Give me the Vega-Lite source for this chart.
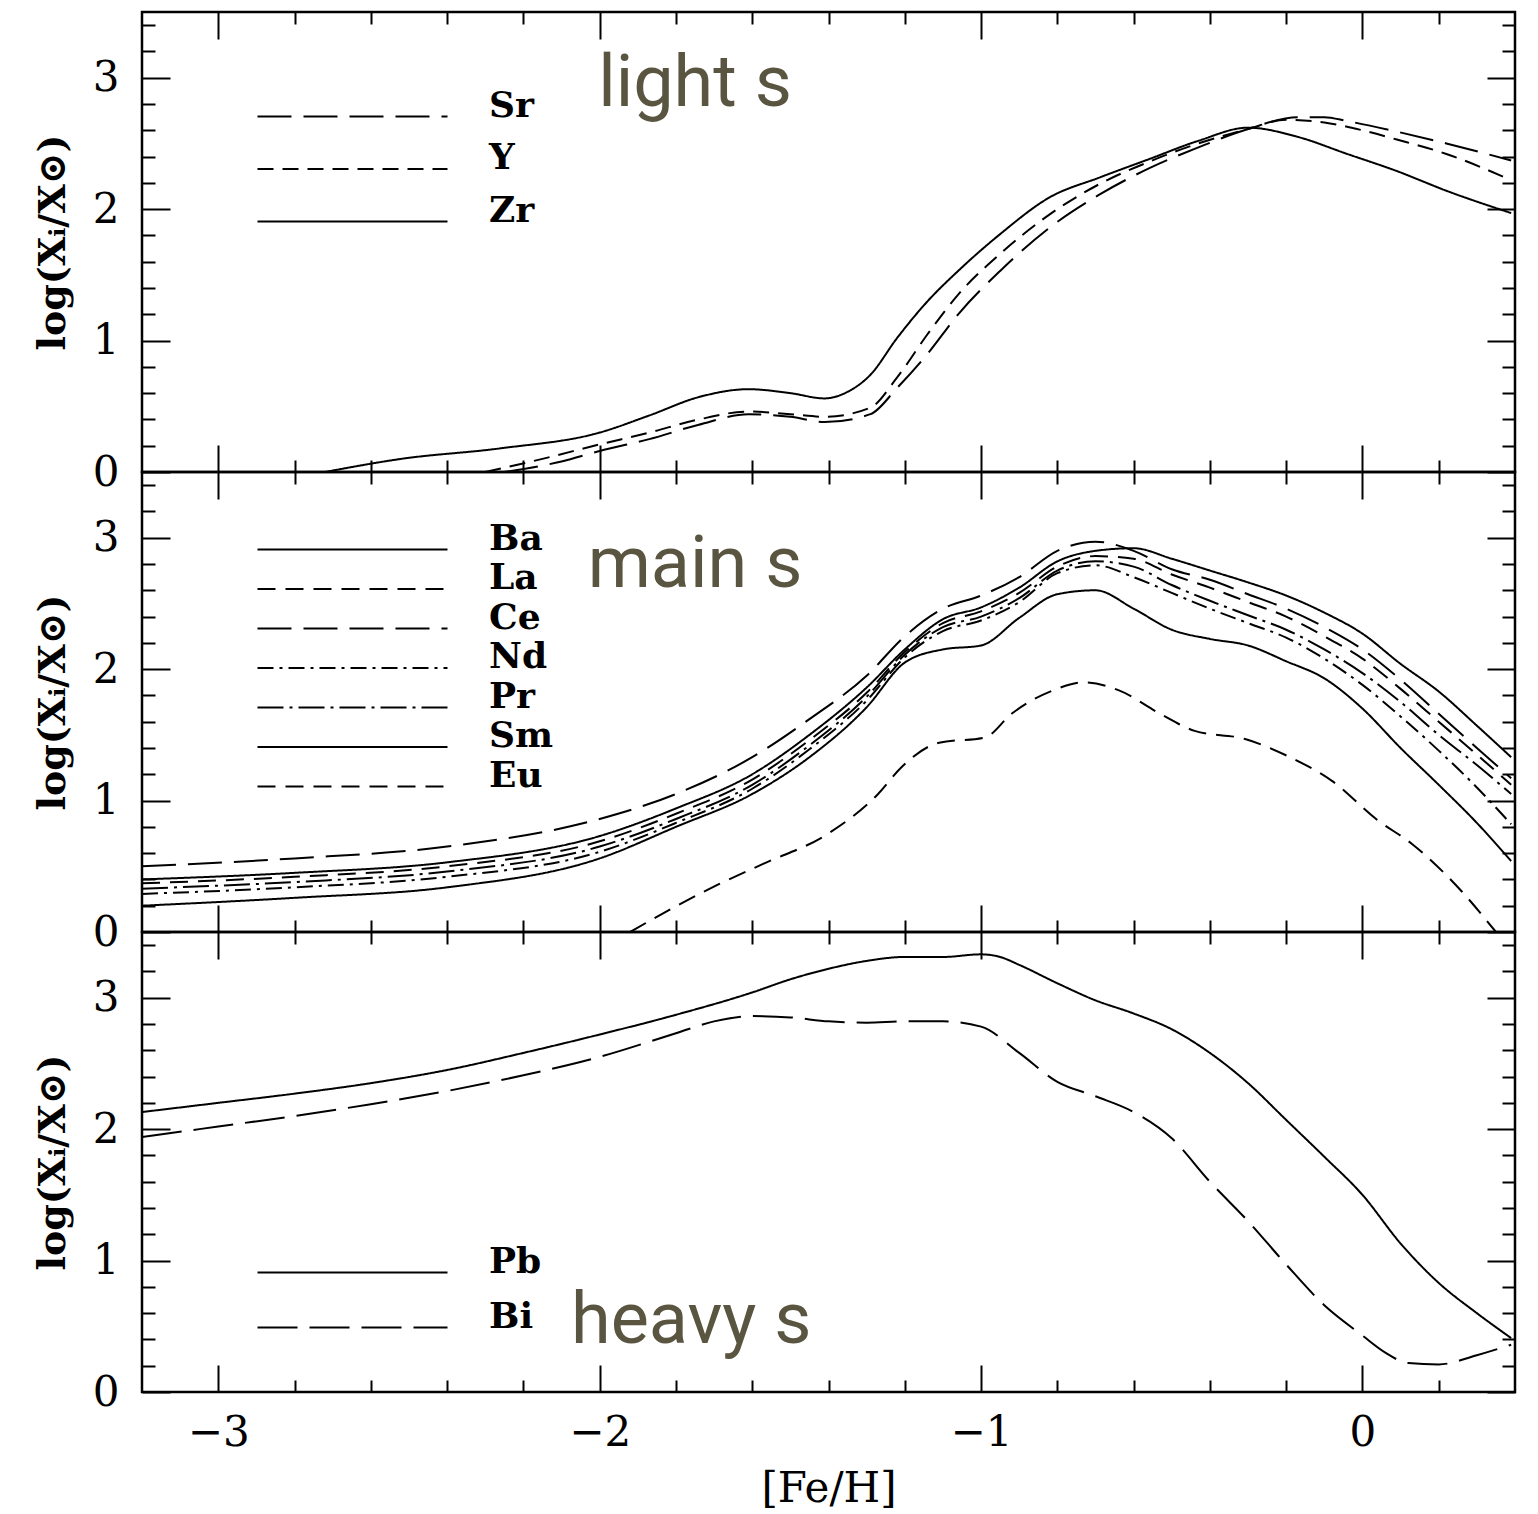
{
  "$schema": "https://vega.github.io/schema/vega-lite/v6.json",
  "padding": {"left": 33, "top": 2, "right": 0, "bottom": 0},
  "autosize": {"type": "pad"},
  "background": "white",
  "bounds": "flush",
  "config": {
    "view": {"stroke": "black", "strokeWidth": 2.5},
    "axis": {"domain": false, "grid": false, "tickColor": "black", "tickWidth": 2, "labelColor": "black", "labelFont": "DejaVu Serif", "labelFontSize": 42, "titleFont": "DejaVu Serif", "titleColor": "black", "titleFontWeight": "bold", "labelOverlap": false, "labelFlush": false},
    "legend": {"orient": "none", "title": null, "symbolType": "M-5,0H5", "symbolSize": 1444, "symbolStrokeWidth": 2.2, "symbolStrokeColor": "black", "labelFont": "DejaVu Serif", "labelFontSize": 36, "labelFontWeight": "bold", "labelColor": "black", "labelOffset": 116, "labelBaseline": "alphabetic", "padding": 0}
  },
  "datasets": {
    "light": [
      {"el":"Zr","feh":-2.72,"val":0},{"el":"Zr","feh":-2.52,"val":0.10},{"el":"Zr","feh":-2.26,"val":0.18},{"el":"Zr","feh":-2.0,"val":0.30},{"el":"Zr","feh":-1.87,"val":0.43},{"el":"Zr","feh":-1.74,"val":0.57},{"el":"Zr","feh":-1.61,"val":0.63},{"el":"Zr","feh":-1.5,"val":0.60},{"el":"Zr","feh":-1.41,"val":0.56},{"el":"Zr","feh":-1.35,"val":0.61},{"el":"Zr","feh":-1.29,"val":0.74},{"el":"Zr","feh":-1.22,"val":1.02},{"el":"Zr","feh":-1.14,"val":1.30},{"el":"Zr","feh":-1.06,"val":1.53},{"el":"Zr","feh":-0.95,"val":1.81},{"el":"Zr","feh":-0.82,"val":2.09},{"el":"Zr","feh":-0.69,"val":2.24},{"el":"Zr","feh":-0.56,"val":2.38},{"el":"Zr","feh":-0.43,"val":2.52},{"el":"Zr","feh":-0.30,"val":2.62},{"el":"Zr","feh":-0.17,"val":2.55},{"el":"Zr","feh":-0.04,"val":2.42},{"el":"Zr","feh":0.09,"val":2.29},{"el":"Zr","feh":0.22,"val":2.14},{"el":"Zr","feh":0.39,"val":1.97},
      {"el":"Y","feh":-2.30,"val":0},{"el":"Y","feh":-2.15,"val":0.10},{"el":"Y","feh":-2.0,"val":0.21},{"el":"Y","feh":-1.87,"val":0.30},{"el":"Y","feh":-1.74,"val":0.40},{"el":"Y","feh":-1.61,"val":0.46},{"el":"Y","feh":-1.5,"val":0.44},{"el":"Y","feh":-1.41,"val":0.42},{"el":"Y","feh":-1.29,"val":0.49},{"el":"Y","feh":-1.22,"val":0.72},{"el":"Y","feh":-1.14,"val":1.05},{"el":"Y","feh":-1.06,"val":1.35},{"el":"Y","feh":-0.95,"val":1.66},{"el":"Y","feh":-0.82,"val":1.96},{"el":"Y","feh":-0.69,"val":2.19},{"el":"Y","feh":-0.56,"val":2.36},{"el":"Y","feh":-0.43,"val":2.50},{"el":"Y","feh":-0.3,"val":2.61},{"el":"Y","feh":-0.2,"val":2.68},{"el":"Y","feh":-0.1,"val":2.66},{"el":"Y","feh":0.0,"val":2.60},{"el":"Y","feh":0.09,"val":2.53},{"el":"Y","feh":0.22,"val":2.42},{"el":"Y","feh":0.39,"val":2.22},
      {"el":"Sr","feh":-2.25,"val":0},{"el":"Sr","feh":-2.1,"val":0.08},{"el":"Sr","feh":-2.0,"val":0.16},{"el":"Sr","feh":-1.87,"val":0.25},{"el":"Sr","feh":-1.74,"val":0.36},{"el":"Sr","feh":-1.61,"val":0.44},{"el":"Sr","feh":-1.5,"val":0.42},{"el":"Sr","feh":-1.41,"val":0.38},{"el":"Sr","feh":-1.29,"val":0.44},{"el":"Sr","feh":-1.22,"val":0.64},{"el":"Sr","feh":-1.14,"val":0.90},{"el":"Sr","feh":-1.06,"val":1.20},{"el":"Sr","feh":-0.95,"val":1.53},{"el":"Sr","feh":-0.82,"val":1.86},{"el":"Sr","feh":-0.69,"val":2.11},{"el":"Sr","feh":-0.56,"val":2.31},{"el":"Sr","feh":-0.43,"val":2.47},{"el":"Sr","feh":-0.3,"val":2.61},{"el":"Sr","feh":-0.17,"val":2.70},{"el":"Sr","feh":-0.1,"val":2.70},{"el":"Sr","feh":-0.04,"val":2.67},{"el":"Sr","feh":0.09,"val":2.59},{"el":"Sr","feh":0.22,"val":2.50},{"el":"Sr","feh":0.39,"val":2.37}
    ],
    "main": [
      {"el":"Ce","feh":-3.2,"val":0.50},{"el":"Ce","feh":-2.8,"val":0.56},{"el":"Ce","feh":-2.4,"val":0.65},{"el":"Ce","feh":-2.0,"val":0.86},{"el":"Ce","feh":-1.8,"val":1.05},{"el":"Ce","feh":-1.6,"val":1.33},{"el":"Ce","feh":-1.45,"val":1.62},{"el":"Ce","feh":-1.3,"val":1.95},{"el":"Ce","feh":-1.2,"val":2.25},{"el":"Ce","feh":-1.1,"val":2.46},{"el":"Ce","feh":-1.0,"val":2.56},{"el":"Ce","feh":-0.9,"val":2.70},{"el":"Ce","feh":-0.8,"val":2.90},{"el":"Ce","feh":-0.7,"val":2.97},{"el":"Ce","feh":-0.6,"val":2.90},{"el":"Ce","feh":-0.5,"val":2.76},{"el":"Ce","feh":-0.4,"val":2.68},{"el":"Ce","feh":-0.3,"val":2.57},{"el":"Ce","feh":-0.2,"val":2.46},{"el":"Ce","feh":-0.1,"val":2.32},{"el":"Ce","feh":0.0,"val":2.15},{"el":"Ce","feh":0.1,"val":1.92},{"el":"Ce","feh":0.2,"val":1.66},{"el":"Ce","feh":0.3,"val":1.40},{"el":"Ce","feh":0.39,"val":1.17},
      {"el":"Ba","feh":-3.2,"val":0.40},{"el":"Ba","feh":-2.8,"val":0.45},{"el":"Ba","feh":-2.4,"val":0.53},{"el":"Ba","feh":-2.0,"val":0.73},{"el":"Ba","feh":-1.8,"val":0.94},{"el":"Ba","feh":-1.6,"val":1.20},{"el":"Ba","feh":-1.45,"val":1.50},{"el":"Ba","feh":-1.3,"val":1.86},{"el":"Ba","feh":-1.2,"val":2.15},{"el":"Ba","feh":-1.1,"val":2.38},{"el":"Ba","feh":-1.0,"val":2.47},{"el":"Ba","feh":-0.9,"val":2.62},{"el":"Ba","feh":-0.8,"val":2.82},{"el":"Ba","feh":-0.7,"val":2.90},{"el":"Ba","feh":-0.6,"val":2.92},{"el":"Ba","feh":-0.5,"val":2.84},{"el":"Ba","feh":-0.4,"val":2.75},{"el":"Ba","feh":-0.3,"val":2.66},{"el":"Ba","feh":-0.2,"val":2.56},{"el":"Ba","feh":-0.1,"val":2.43},{"el":"Ba","feh":0.0,"val":2.27},{"el":"Ba","feh":0.1,"val":2.04},{"el":"Ba","feh":0.2,"val":1.83},{"el":"Ba","feh":0.3,"val":1.57},{"el":"Ba","feh":0.39,"val":1.33},
      {"el":"La","feh":-3.2,"val":0.37},{"el":"La","feh":-2.8,"val":0.42},{"el":"La","feh":-2.4,"val":0.50},{"el":"La","feh":-2.0,"val":0.69},{"el":"La","feh":-1.8,"val":0.90},{"el":"La","feh":-1.6,"val":1.16},{"el":"La","feh":-1.45,"val":1.46},{"el":"La","feh":-1.3,"val":1.82},{"el":"La","feh":-1.2,"val":2.13},{"el":"La","feh":-1.1,"val":2.35},{"el":"La","feh":-1.0,"val":2.44},{"el":"La","feh":-0.9,"val":2.58},{"el":"La","feh":-0.8,"val":2.78},{"el":"La","feh":-0.7,"val":2.86},{"el":"La","feh":-0.6,"val":2.84},{"el":"La","feh":-0.5,"val":2.72},{"el":"La","feh":-0.4,"val":2.62},{"el":"La","feh":-0.3,"val":2.51},{"el":"La","feh":-0.2,"val":2.40},{"el":"La","feh":-0.1,"val":2.25},{"el":"La","feh":0.0,"val":2.08},{"el":"La","feh":0.1,"val":1.85},{"el":"La","feh":0.2,"val":1.60},{"el":"La","feh":0.3,"val":1.35},{"el":"La","feh":0.39,"val":1.12},
      {"el":"Pr","feh":-3.2,"val":0.33},{"el":"Pr","feh":-2.8,"val":0.38},{"el":"Pr","feh":-2.4,"val":0.46},{"el":"Pr","feh":-2.0,"val":0.65},{"el":"Pr","feh":-1.8,"val":0.86},{"el":"Pr","feh":-1.6,"val":1.12},{"el":"Pr","feh":-1.45,"val":1.42},{"el":"Pr","feh":-1.3,"val":1.79},{"el":"Pr","feh":-1.2,"val":2.11},{"el":"Pr","feh":-1.1,"val":2.32},{"el":"Pr","feh":-1.0,"val":2.40},{"el":"Pr","feh":-0.9,"val":2.54},{"el":"Pr","feh":-0.8,"val":2.75},{"el":"Pr","feh":-0.7,"val":2.82},{"el":"Pr","feh":-0.6,"val":2.78},{"el":"Pr","feh":-0.5,"val":2.64},{"el":"Pr","feh":-0.4,"val":2.52},{"el":"Pr","feh":-0.3,"val":2.41},{"el":"Pr","feh":-0.2,"val":2.30},{"el":"Pr","feh":-0.1,"val":2.15},{"el":"Pr","feh":0.0,"val":1.97},{"el":"Pr","feh":0.1,"val":1.75},{"el":"Pr","feh":0.2,"val":1.50},{"el":"Pr","feh":0.3,"val":1.27},{"el":"Pr","feh":0.39,"val":1.05},
      {"el":"Nd","feh":-3.2,"val":0.29},{"el":"Nd","feh":-2.8,"val":0.34},{"el":"Nd","feh":-2.4,"val":0.42},{"el":"Nd","feh":-2.0,"val":0.61},{"el":"Nd","feh":-1.8,"val":0.83},{"el":"Nd","feh":-1.6,"val":1.09},{"el":"Nd","feh":-1.45,"val":1.39},{"el":"Nd","feh":-1.3,"val":1.76},{"el":"Nd","feh":-1.2,"val":2.09},{"el":"Nd","feh":-1.1,"val":2.29},{"el":"Nd","feh":-1.0,"val":2.37},{"el":"Nd","feh":-0.9,"val":2.51},{"el":"Nd","feh":-0.8,"val":2.73},{"el":"Nd","feh":-0.7,"val":2.79},{"el":"Nd","feh":-0.6,"val":2.70},{"el":"Nd","feh":-0.5,"val":2.58},{"el":"Nd","feh":-0.4,"val":2.46},{"el":"Nd","feh":-0.3,"val":2.35},{"el":"Nd","feh":-0.2,"val":2.24},{"el":"Nd","feh":-0.1,"val":2.08},{"el":"Nd","feh":0.0,"val":1.88},{"el":"Nd","feh":0.1,"val":1.64},{"el":"Nd","feh":0.2,"val":1.38},{"el":"Nd","feh":0.3,"val":1.10},{"el":"Nd","feh":0.39,"val":0.82},
      {"el":"Sm","feh":-3.2,"val":0.20},{"el":"Sm","feh":-2.8,"val":0.26},{"el":"Sm","feh":-2.4,"val":0.34},{"el":"Sm","feh":-2.0,"val":0.56},{"el":"Sm","feh":-1.8,"val":0.80},{"el":"Sm","feh":-1.6,"val":1.05},{"el":"Sm","feh":-1.45,"val":1.33},{"el":"Sm","feh":-1.3,"val":1.71},{"el":"Sm","feh":-1.2,"val":2.05},{"el":"Sm","feh":-1.1,"val":2.15},{"el":"Sm","feh":-1.0,"val":2.18},{"el":"Sm","feh":-0.9,"val":2.39},{"el":"Sm","feh":-0.8,"val":2.57},{"el":"Sm","feh":-0.7,"val":2.60},{"el":"Sm","feh":-0.6,"val":2.46},{"el":"Sm","feh":-0.5,"val":2.30},{"el":"Sm","feh":-0.4,"val":2.23},{"el":"Sm","feh":-0.3,"val":2.18},{"el":"Sm","feh":-0.2,"val":2.06},{"el":"Sm","feh":-0.1,"val":1.93},{"el":"Sm","feh":0.0,"val":1.70},{"el":"Sm","feh":0.1,"val":1.40},{"el":"Sm","feh":0.2,"val":1.12},{"el":"Sm","feh":0.3,"val":0.83},{"el":"Sm","feh":0.39,"val":0.54},
      {"el":"Eu","feh":-1.92,"val":0},{"el":"Eu","feh":-1.81,"val":0.18},{"el":"Eu","feh":-1.69,"val":0.36},{"el":"Eu","feh":-1.57,"val":0.52},{"el":"Eu","feh":-1.40,"val":0.75},{"el":"Eu","feh":-1.27,"val":1.05},{"el":"Eu","feh":-1.21,"val":1.25},{"el":"Eu","feh":-1.11,"val":1.44},{"el":"Eu","feh":-0.99,"val":1.48},{"el":"Eu","feh":-0.92,"val":1.66},{"el":"Eu","feh":-0.81,"val":1.84},{"el":"Eu","feh":-0.73,"val":1.90},{"el":"Eu","feh":-0.64,"val":1.84},{"el":"Eu","feh":-0.53,"val":1.66},{"el":"Eu","feh":-0.44,"val":1.53},{"el":"Eu","feh":-0.31,"val":1.47},{"el":"Eu","feh":-0.19,"val":1.33},{"el":"Eu","feh":-0.08,"val":1.15},{"el":"Eu","feh":0.04,"val":0.85},{"el":"Eu","feh":0.13,"val":0.67},{"el":"Eu","feh":0.26,"val":0.31},{"el":"Eu","feh":0.35,"val":0.0}
    ],
    "heavy": [
      {"el":"Pb","feh":-3.2,"val":2.13},{"el":"Pb","feh":-3.0,"val":2.20},{"el":"Pb","feh":-2.8,"val":2.27},{"el":"Pb","feh":-2.6,"val":2.35},{"el":"Pb","feh":-2.4,"val":2.45},{"el":"Pb","feh":-2.2,"val":2.58},{"el":"Pb","feh":-2.0,"val":2.72},{"el":"Pb","feh":-1.8,"val":2.87},{"el":"Pb","feh":-1.6,"val":3.04},{"el":"Pb","feh":-1.5,"val":3.14},{"el":"Pb","feh":-1.4,"val":3.22},{"el":"Pb","feh":-1.3,"val":3.28},{"el":"Pb","feh":-1.2,"val":3.31},{"el":"Pb","feh":-1.1,"val":3.31},{"el":"Pb","feh":-1.0,"val":3.33},{"el":"Pb","feh":-0.95,"val":3.31},{"el":"Pb","feh":-0.9,"val":3.25},{"el":"Pb","feh":-0.8,"val":3.11},{"el":"Pb","feh":-0.7,"val":2.98},{"el":"Pb","feh":-0.6,"val":2.88},{"el":"Pb","feh":-0.5,"val":2.76},{"el":"Pb","feh":-0.4,"val":2.58},{"el":"Pb","feh":-0.3,"val":2.35},{"el":"Pb","feh":-0.2,"val":2.07},{"el":"Pb","feh":-0.1,"val":1.79},{"el":"Pb","feh":0.0,"val":1.50},{"el":"Pb","feh":0.1,"val":1.13},{"el":"Pb","feh":0.2,"val":0.83},{"el":"Pb","feh":0.3,"val":0.60},{"el":"Pb","feh":0.39,"val":0.41},
      {"el":"Bi","feh":-3.2,"val":1.94},{"el":"Bi","feh":-3.0,"val":2.02},{"el":"Bi","feh":-2.8,"val":2.10},{"el":"Bi","feh":-2.6,"val":2.19},{"el":"Bi","feh":-2.4,"val":2.29},{"el":"Bi","feh":-2.2,"val":2.41},{"el":"Bi","feh":-2.0,"val":2.55},{"el":"Bi","feh":-1.8,"val":2.73},{"el":"Bi","feh":-1.7,"val":2.82},{"el":"Bi","feh":-1.6,"val":2.86},{"el":"Bi","feh":-1.5,"val":2.85},{"el":"Bi","feh":-1.4,"val":2.82},{"el":"Bi","feh":-1.3,"val":2.81},{"el":"Bi","feh":-1.2,"val":2.82},{"el":"Bi","feh":-1.1,"val":2.82},{"el":"Bi","feh":-1.0,"val":2.78},{"el":"Bi","feh":-0.9,"val":2.58},{"el":"Bi","feh":-0.8,"val":2.36},{"el":"Bi","feh":-0.7,"val":2.25},{"el":"Bi","feh":-0.6,"val":2.13},{"el":"Bi","feh":-0.5,"val":1.93},{"el":"Bi","feh":-0.4,"val":1.60},{"el":"Bi","feh":-0.3,"val":1.30},{"el":"Bi","feh":-0.2,"val":0.97},{"el":"Bi","feh":-0.1,"val":0.66},{"el":"Bi","feh":0.0,"val":0.43},{"el":"Bi","feh":0.06,"val":0.30},{"el":"Bi","feh":0.12,"val":0.22},{"el":"Bi","feh":0.2,"val":0.21},{"el":"Bi","feh":0.3,"val":0.28},{"el":"Bi","feh":0.39,"val":0.36}
    ]
  },
  "spacing": 0,
  "resolve": {"scale": {"strokeDash": "independent", "x": "independent", "y": "independent"}, "legend": {"strokeDash": "independent"}},
  "vconcat": [
    {
      "width": 1373, "height": 460,
      "resolve": {"axis": {"x": "independent", "y": "independent"}},
      "layer": [
        {
          "data": {"name": "light"},
          "mark": {"type": "line", "color": "black", "strokeWidth": 2, "interpolate": "monotone", "clip": true},
          "encoding": {
            "x": {"field": "feh", "type": "quantitative", "scale": {"domain": [-3.2, 0.4], "nice": false, "zero": false},
                  "axis": {"orient": "bottom", "values": [-3,-2.8,-2.6,-2.4,-2.2,-2,-1.8,-1.6,-1.4,-1.2,-1,-0.8,-0.6,-0.4,-0.2,0,0.2], "tickSize": {"condition": {"test": "abs(datum.value-round(datum.value))<0.001", "value": -27}, "value": -12}, "labels": false, "title": null}},
            "y": {"field": "val", "type": "quantitative", "scale": {"domain": [0, 3.5], "nice": false},
                  "axis": {"orient": "left", "values": [0,0.2,0.4,0.6,0.8,1,1.2,1.4,1.6,1.8,2,2.2,2.4,2.6,2.8,3,3.2,3.4], "tickSize": {"condition": {"test": "abs(datum.value-round(datum.value))<0.001", "value": -28}, "value": -13}, "labelExpr": "abs(datum.value-round(datum.value))<0.001 ? format(datum.value,'d') : ''", "labelPadding": 51, "title": "log(Xᵢ/X⊙)", "titleFontSize": 38, "titlePadding": 20}},
            "strokeDash": {"field": "el", "type": "nominal", "scale": {"domain": ["Sr","Y","Zr"], "range": [[34,12],[16,9],[1,0]]},
                           "legend": {"legendX": 190, "legendY": 84, "rowPadding": 15.5}}
          }
        },
        {
          "data": {"name": "light"},
          "mark": {"type": "line", "opacity": 0},
          "encoding": {
            "x": {"field": "feh", "type": "quantitative", "axis": {"orient": "top", "values": [-3,-2.8,-2.6,-2.4,-2.2,-2,-1.8,-1.6,-1.4,-1.2,-1,-0.8,-0.6,-0.4,-0.2,0,0.2], "tickSize": {"condition": {"test": "abs(datum.value-round(datum.value))<0.001", "value": -27}, "value": -12}, "labels": false, "title": null}},
            "y": {"field": "val", "type": "quantitative", "axis": {"orient": "right", "values": [0,0.2,0.4,0.6,0.8,1,1.2,1.4,1.6,1.8,2,2.2,2.4,2.6,2.8,3,3.2,3.4], "tickSize": {"condition": {"test": "abs(datum.value-round(datum.value))<0.001", "value": -28}, "value": -13}, "labels": false, "title": null}},
            "detail": {"field": "el", "type": "nominal"}
          }
        },
        {
          "data": {"values": [{"label": "light s"}]},
          "mark": {"type": "text", "font": "Roboto", "fontSize": 72, "color": "#5a5540", "align": "center", "baseline": "middle"},
          "encoding": {
            "text": {"field": "label"},
            "x": {"datum": -1.75, "type": "quantitative", "axis": null},
            "y": {"datum": 2.95, "type": "quantitative", "axis": null}
          }
        }
      ]
    },
    {
      "width": 1373, "height": 460,
      "resolve": {"axis": {"x": "independent", "y": "independent"}},
      "layer": [
        {
          "data": {"name": "main"},
          "mark": {"type": "line", "color": "black", "strokeWidth": 2, "interpolate": "monotone", "clip": true},
          "encoding": {
            "x": {"field": "feh", "type": "quantitative", "scale": {"domain": [-3.2, 0.4], "nice": false, "zero": false},
                  "axis": {"orient": "bottom", "values": [-3,-2.8,-2.6,-2.4,-2.2,-2,-1.8,-1.6,-1.4,-1.2,-1,-0.8,-0.6,-0.4,-0.2,0,0.2], "tickSize": {"condition": {"test": "abs(datum.value-round(datum.value))<0.001", "value": -27}, "value": -12}, "labels": false, "title": null}},
            "y": {"field": "val", "type": "quantitative", "scale": {"domain": [0, 3.5], "nice": false},
                  "axis": {"orient": "left", "values": [0,0.2,0.4,0.6,0.8,1,1.2,1.4,1.6,1.8,2,2.2,2.4,2.6,2.8,3,3.2,3.4], "tickSize": {"condition": {"test": "abs(datum.value-round(datum.value))<0.001", "value": -28}, "value": -13}, "labelExpr": "abs(datum.value-round(datum.value))<0.001 ? format(datum.value,'d') : ''", "labelPadding": 51, "title": "log(Xᵢ/X⊙)", "titleFontSize": 38, "titlePadding": 20}},
            "strokeDash": {"field": "el", "type": "nominal", "scale": {"domain": ["Ba","La","Ce","Nd","Pr","Sm","Eu"], "range": [[1,0],[18,10],[34,12],[16,6,3,6],[26,6,3,6],[1,0],[18,10]]},
                           "legend": {"legendX": 190, "legendY": 57, "rowPadding": 2.5}}
          }
        },
        {
          "data": {"name": "main"},
          "mark": {"type": "line", "opacity": 0},
          "encoding": {
            "x": {"field": "feh", "type": "quantitative", "axis": {"orient": "top", "values": [-3,-2.8,-2.6,-2.4,-2.2,-2,-1.8,-1.6,-1.4,-1.2,-1,-0.8,-0.6,-0.4,-0.2,0,0.2], "tickSize": {"condition": {"test": "abs(datum.value-round(datum.value))<0.001", "value": -27}, "value": -12}, "labels": false, "title": null}},
            "y": {"field": "val", "type": "quantitative", "axis": {"orient": "right", "values": [0,0.2,0.4,0.6,0.8,1,1.2,1.4,1.6,1.8,2,2.2,2.4,2.6,2.8,3,3.2,3.4], "tickSize": {"condition": {"test": "abs(datum.value-round(datum.value))<0.001", "value": -28}, "value": -13}, "labels": false, "title": null}},
            "detail": {"field": "el", "type": "nominal"}
          }
        },
        {
          "data": {"values": [{"label": "main s"}]},
          "mark": {"type": "text", "font": "Roboto", "fontSize": 72, "color": "#5a5540", "align": "center", "baseline": "middle"},
          "encoding": {
            "text": {"field": "label"},
            "x": {"datum": -1.75, "type": "quantitative", "axis": null},
            "y": {"datum": 2.79, "type": "quantitative", "axis": null}
          }
        }
      ]
    },
    {
      "width": 1373, "height": 460,
      "resolve": {"axis": {"x": "independent", "y": "independent"}},
      "layer": [
        {
          "data": {"name": "heavy"},
          "mark": {"type": "line", "color": "black", "strokeWidth": 2, "interpolate": "monotone", "clip": true},
          "encoding": {
            "x": {"field": "feh", "type": "quantitative", "scale": {"domain": [-3.2, 0.4], "nice": false, "zero": false},
                  "axis": {"orient": "bottom", "values": [-3,-2.8,-2.6,-2.4,-2.2,-2,-1.8,-1.6,-1.4,-1.2,-1,-0.8,-0.6,-0.4,-0.2,0,0.2], "tickSize": {"condition": {"test": "abs(datum.value-round(datum.value))<0.001", "value": -27}, "value": -12}, "labelExpr": "abs(datum.value-round(datum.value))<0.001 ? format(datum.value,'d') : ''", "labelPadding": 47, "title": "[Fe/H]", "titleFontSize": 42, "titleFontWeight": "normal", "titlePadding": 0}},
            "y": {"field": "val", "type": "quantitative", "scale": {"domain": [0, 3.5], "nice": false},
                  "axis": {"orient": "left", "values": [0,0.2,0.4,0.6,0.8,1,1.2,1.4,1.6,1.8,2,2.2,2.4,2.6,2.8,3,3.2,3.4], "tickSize": {"condition": {"test": "abs(datum.value-round(datum.value))<0.001", "value": -28}, "value": -13}, "labelExpr": "abs(datum.value-round(datum.value))<0.001 ? format(datum.value,'d') : ''", "labelPadding": 51, "title": "log(Xᵢ/X⊙)", "titleFontSize": 38, "titlePadding": 20}},
            "strokeDash": {"field": "el", "type": "nominal", "scale": {"domain": ["Pb","Bi"], "range": [[1,0],[40,12]]},
                           "legend": {"legendX": 190, "legendY": 320, "rowPadding": 18}}
          }
        },
        {
          "data": {"name": "heavy"},
          "mark": {"type": "line", "opacity": 0},
          "encoding": {
            "x": {"field": "feh", "type": "quantitative", "axis": {"orient": "top", "values": [-3,-2.8,-2.6,-2.4,-2.2,-2,-1.8,-1.6,-1.4,-1.2,-1,-0.8,-0.6,-0.4,-0.2,0,0.2], "tickSize": {"condition": {"test": "abs(datum.value-round(datum.value))<0.001", "value": -27}, "value": -12}, "labels": false, "title": null}},
            "y": {"field": "val", "type": "quantitative", "axis": {"orient": "right", "values": [0,0.2,0.4,0.6,0.8,1,1.2,1.4,1.6,1.8,2,2.2,2.4,2.6,2.8,3,3.2,3.4], "tickSize": {"condition": {"test": "abs(datum.value-round(datum.value))<0.001", "value": -28}, "value": -13}, "labels": false, "title": null}},
            "detail": {"field": "el", "type": "nominal"}
          }
        },
        {
          "data": {"values": [{"label": "heavy s"}]},
          "mark": {"type": "text", "font": "Roboto", "fontSize": 72, "color": "#5a5540", "align": "center", "baseline": "middle"},
          "encoding": {
            "text": {"field": "label"},
            "x": {"datum": -1.76, "type": "quantitative", "axis": null},
            "y": {"datum": 0.54, "type": "quantitative", "axis": null}
          }
        }
      ]
    }
  ]
}
